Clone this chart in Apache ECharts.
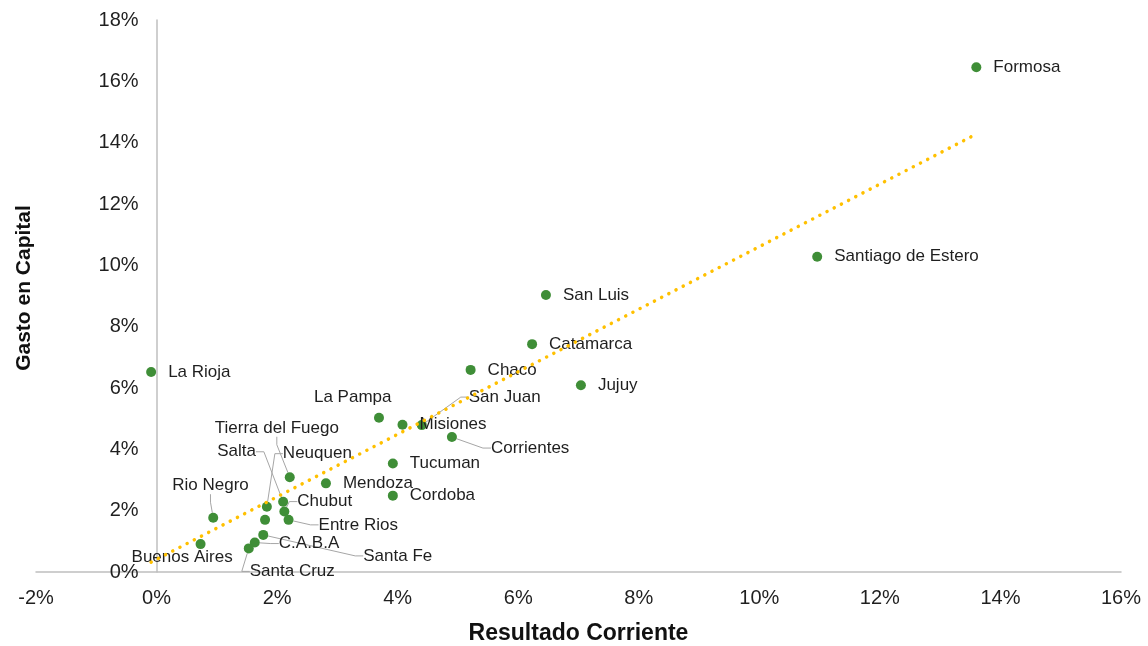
<!DOCTYPE html>
<html>
<head>
<meta charset="utf-8">
<script src="https://cdn.jsdelivr.net/npm/echarts@6/dist/echarts.min.js"></script>
<style>
  html, body { margin: 0; padding: 0; background: #ffffff; }
  #chart { width: 1148px; height: 646px; }
</style>
</head>
<body>
<div id="chart"></div>
<script>
// ---- Data ----
const provincias = ['Formosa', 'Santiago de Estero', 'San Luis', 'Catamarca', 'Chaco', 'Jujuy',
  'La Rioja', 'La Pampa', 'Misiones', 'San Juan', 'Corrientes', 'Tucuman', 'Mendoza', 'Cordoba',
  'Tierra del Fuego', 'Neuquen', 'Salta', 'Chubut', 'Entre Rios', 'Rio Negro', 'Buenos Aires',
  'Santa Fe', 'C.A.B.A', 'Santa Cruz', ''];
const resultadoCorriente = [13.60, 10.96, 6.46, 6.23, 5.21, 7.04,
  -0.09, 3.69, 4.08, 4.40, 4.90, 3.92, 2.81, 3.92,
  2.21, 1.83, 2.10, 2.12, 2.19, 0.94, 0.73,
  1.77, 1.63, 1.53, 1.80];
const gastoCapital = [16.46, 10.28, 9.03, 7.43, 6.59, 6.09,
  6.52, 5.03, 4.80, 4.79, 4.40, 3.54, 2.89, 2.49,
  3.09, 2.13, 2.29, 1.97, 1.70, 1.77, 0.91,
  1.21, 0.96, 0.77, 1.70];
// Linear trend line end points
const trendX = [-0.09, 13.60];
const trendY = [0.32, 14.28];
// Axis ticks
const xTicks = { min: -2, max: 16, step: 2 };
const yTicks = { min: 0, max: 18, step: 2 };

// ---- Label placement (pixel offsets of label left/middle from the point; leader line flag) ----
const labelPlacement = {
  'San Juan': [47, -28, true],
  'La Pampa': [-65, -20, false],
  'Corrientes': [39, 11, true],
  'Rio Negro': [-41, -32, true],
  'Buenos Aires': [-69, 13, false],
  'Tierra del Fuego': [-75, -49, true],
  'Salta': [-66, -50, true],
  'Neuquen': [16, -53, true],
  'Chubut': [13, -10, true],
  'Entre Rios': [30, 5, true],
  'C.A.B.A': [24, 1, true],
  'Santa Fe': [100, 21, true],
  'Santa Cruz': [1, 23, true]
};
const defaultPlacement = [17, 0, false];

const FONT = "'Liberation Sans', Arial, Helvetica, sans-serif";
const TEXT = '#1f1f1f';

const GRID = { left: 36, right: 27, top: 20, bottom: 74 };
const plotWidth = 1148 - GRID.left - GRID.right;
// shift the y axis (line + labels) to x = 0
const yAxisOffset = -plotWidth * (0 - xTicks.min) / (xTicks.max - xTicks.min);

const points = provincias.map((n, i) => {
  const pl = labelPlacement[n] || defaultPlacement;
  return {
    name: n,
    value: [resultadoCorriente[i], gastoCapital[i]],
    label: { show: n !== '' },
    labelLine: { show: !!pl[2] }
  };
});

const chart = echarts.init(document.getElementById('chart'), null, { renderer: 'canvas' });
chart.setOption({
  animation: false,
  backgroundColor: '#ffffff',
  grid: Object.assign({ containLabel: false, outerBoundsMode: 'none' }, GRID),
  xAxis: {
    type: 'value',
    min: xTicks.min, max: xTicks.max, interval: xTicks.step,
    name: 'Resultado Corriente',
    nameLocation: 'middle',
    nameGap: 50,
    nameTextStyle: { fontFamily: FONT, fontSize: 23, fontWeight: 'bold', color: '#111111' },
    axisLine: { show: true, lineStyle: { color: '#bfbfbf', width: 1.5 } },
    axisTick: { show: false },
    splitLine: { show: false },
    axisLabel: { formatter: '{value}%', fontFamily: FONT, fontSize: 20, color: TEXT, margin: 16 }
  },
  yAxis: {
    type: 'value',
    min: yTicks.min, max: yTicks.max, interval: yTicks.step,
    offset: yAxisOffset,
    axisLine: { show: true, onZero: false, lineStyle: { color: '#bfbfbf', width: 1.5 } },
    axisTick: { show: false },
    splitLine: { show: false },
    axisLabel: { formatter: '{value}%', fontFamily: FONT, fontSize: 20, color: TEXT, margin: 18 }
  },
  graphic: [{
    type: 'text',
    x: 24, y: 288,
    rotation: Math.PI / 2,
    style: {
      text: 'Gasto en Capital',
      font: "bold 21px 'Liberation Sans', Arial, sans-serif",
      fill: '#111111',
      align: 'center',
      verticalAlign: 'middle'
    }
  }],
  series: [
    {
      type: 'scatter',
      data: points,
      symbol: 'circle',
      symbolSize: 10,
      itemStyle: { color: '#3f8e37', opacity: 1 },
      z: 2,
      label: {
        show: true,
        formatter: '{b}',
        position: 'right',
        fontFamily: FONT,
        fontSize: 17,
        color: TEXT
      },
      labelLine: {
        show: false,
        length2: 8,
        lineStyle: { color: '#a6a6a6', width: 1 }
      },
      labelLayout: function (p) {
        const n = provincias[p.dataIndex];
        const pl = labelPlacement[n] || defaultPlacement;
        const cx = p.rect.x + p.rect.width / 2;
        const cy = p.rect.y + p.rect.height / 2;
        return { x: cx + pl[0], y: cy + pl[1], align: 'left', verticalAlign: 'middle' };
      }
    },
    {
      type: 'line',
      data: trendX.map((x, i) => [x, trendY[i]]),
      symbol: 'none',
      silent: true,
      z: 3,
      lineStyle: { color: '#FFC000', width: 3.5, type: [0.1, 8], cap: 'round' }
    }
  ]
});
</script>
</body>
</html>
